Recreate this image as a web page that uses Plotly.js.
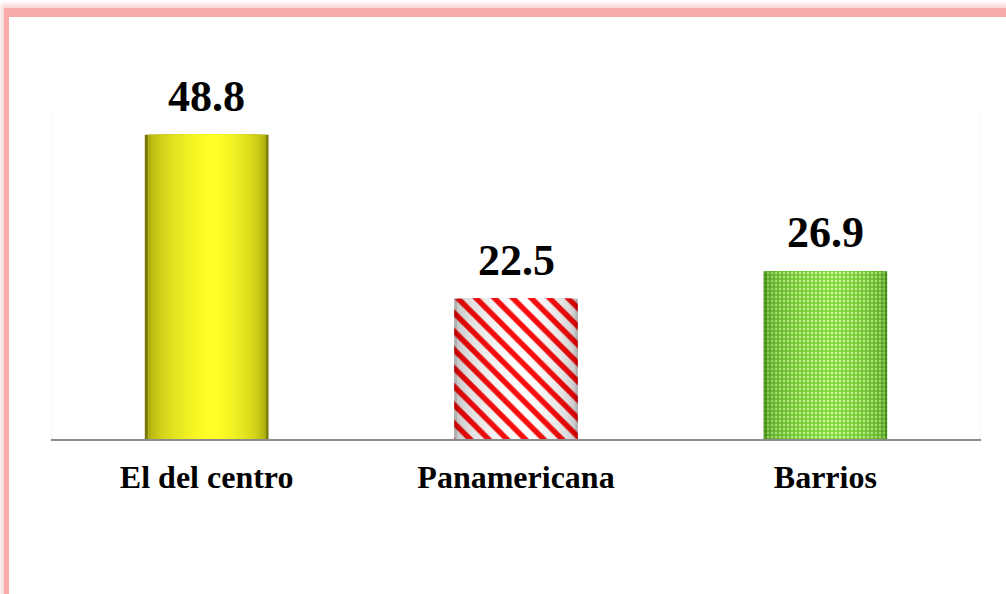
<!DOCTYPE html>
<html>
<head>
<meta charset="utf-8">
<script src="https://cdn.plot.ly/plotly-3.0.1.min.js"></script>
<style>
  html, body { margin: 0; padding: 0; background: #ffffff; overflow: hidden; }
  #frame {
    position: absolute; left: 4px; top: 8px; width: 1020px; height: 583px;
    border-top: 9px solid #f9abab; border-left: 5px solid #f9abab; border-bottom: 3px solid #f9abab;
    box-shadow: -3px -4px 4px rgba(249, 171, 171, 0.45);
  }
  #chart { position: absolute; left: 0; top: 0; width: 1006px; height: 594px; }
</style>
</head>
<body>
<div id="frame"></div>
<div id="chart"></div>
<script>
// Share of respondents by place (percent)
const categories = ['El del centro', 'Panamericana', 'Barrios'];
const values = [48.8, 22.5, 26.9];
const valueLabels = ['48.8', '22.5', '26.9'];

// Cylinder look: each bar is a stack of overlaid bars, narrowing toward a lit centre.
const BAR_WIDTH = 0.4;
const LAYERS = 22;
const SHIFT = 0.02; // highlight sits slightly right of centre

// Per-bar shading: fill colour (edge -> centre), pattern colours (edge -> centre)
const styles = [
  { fillEdge: [120, 120, 0],  fillMid: [255, 255, 40],  gamma: 0.3, shape: '',  fgEdge: [120, 120, 0], fgMid: [255, 255, 40], size: 8, solidity: 0.3 },
  { fillEdge: [175, 175, 175], fillMid: [255, 255, 255], gamma: 0.35, shape: '\\', fgEdge: [190, 0, 0], fgMid: [250, 15, 15], size: 13, solidity: 0.42 },
  { fillEdge: [110, 175, 60], fillMid: [205, 250, 150], gamma: 0.35, shape: '+', fgEdge: [55, 130, 15], fgMid: [95, 200, 25], size: 4, solidity: 0.5 }
];

function mix(a, b, t) {
  return 'rgb(' + a.map((v, i) => Math.round(v + (b[i] - v) * t)).join(',') + ')';
}

const traces = [];
categories.forEach((cat, i) => {
  const s = styles[i];
  for (let k = 0; k < LAYERS; k++) {
    const t = k / (LAYERS - 1);
    const ease = Math.pow(t, s.gamma);
    const w = BAR_WIDTH * (1 - t * 0.9);
    const fill = mix(s.fillEdge, s.fillMid, ease);
    traces.push({
      type: 'bar',
      x: [cat],
      y: [values[i]],
      width: w,
      offset: -w / 2 + SHIFT * t,
      hoverinfo: 'skip',
      showlegend: false,
      marker: {
        color: fill,
        line: { width: 0 },
        pattern: {
          shape: s.shape,
          fgcolor: mix(s.fgEdge, s.fgMid, ease),
          bgcolor: fill,
          size: s.size,
          solidity: s.solidity,
          fillmode: 'replace'
        }
      }
    });
  }
});

const annotations = categories.map((c, i) => ({
  x: c, y: values[i], xref: 'x', yref: 'y',
  text: valueLabels[i], showarrow: false,
  yanchor: 'bottom', yshift: 12,
  font: { family: 'Liberation Serif, Times New Roman, serif', size: 44, color: '#000000', weight: 'bold' }
}));

const layout = {
  width: 1006, height: 594,
  margin: { l: 52, r: 26, t: 113, b: 155 },
  paper_bgcolor: 'rgba(0,0,0,0)',
  plot_bgcolor: 'rgba(0,0,0,0)',
  barmode: 'overlay',
  showlegend: false,
  xaxis: {
    type: 'category',
    range: [-0.5, 2.5],
    showline: true, linecolor: '#8c8c8c', linewidth: 2,
    showgrid: false, zeroline: false,
    ticks: '', ticklabelstandoff: 9,
    tickfont: { family: 'Liberation Serif, Times New Roman, serif', size: 32, color: '#000000', weight: 'bold' }
  },
  yaxis: {
    range: [0, 52.3],
    showline: true, mirror: true, linecolor: '#f5f5f5', linewidth: 1,
    showgrid: false, zeroline: false, showticklabels: false, ticks: ''
  },
  annotations: annotations
};

Plotly.newPlot('chart', traces, layout, { staticPlot: true, displayModeBar: false });
</script>
</body>
</html>
